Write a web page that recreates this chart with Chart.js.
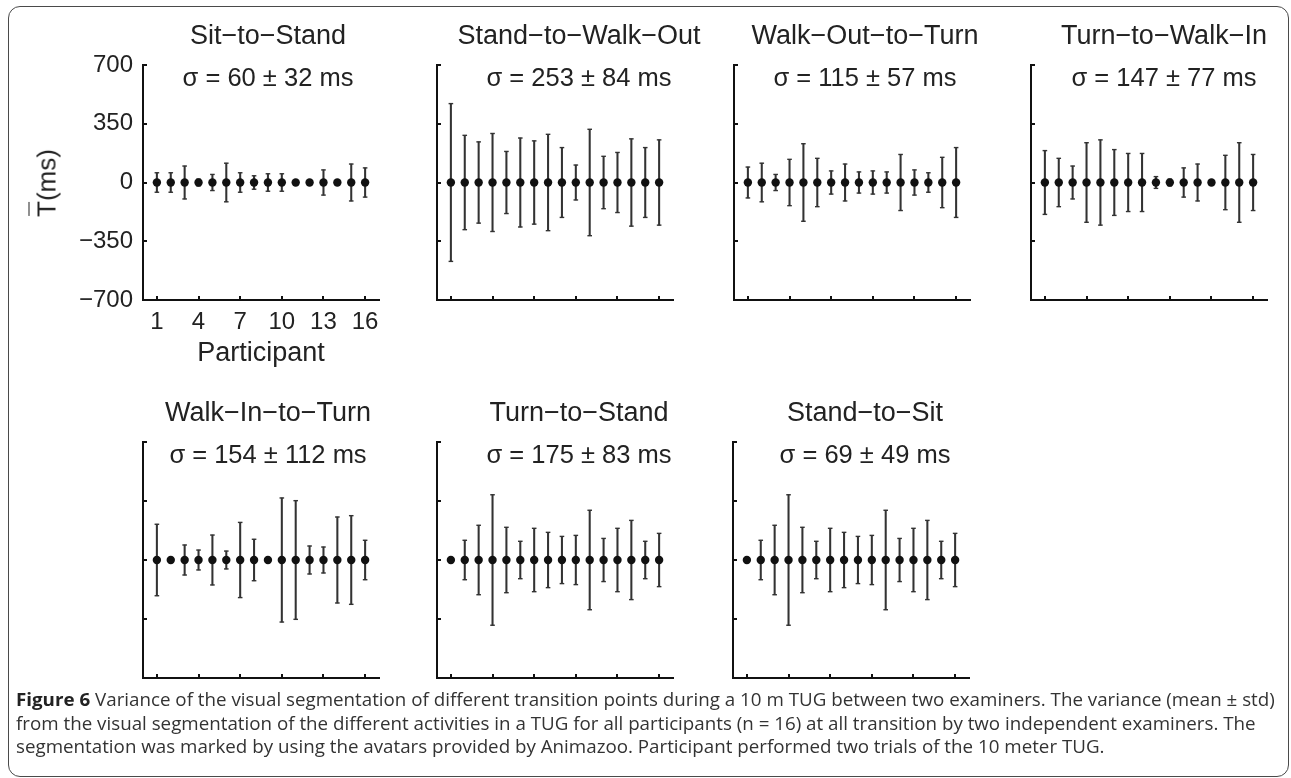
<!DOCTYPE html>
<html>
<head>
<meta charset="utf-8">
<script src="https://cdn.jsdelivr.net/npm/chart.js@4.4.1/dist/chart.umd.min.js"></script>
<style>
  html, body { margin: 0; padding: 0; background: #fff; overflow: hidden; }
  body { width: 1291px; height: 778px; position: relative; font-family: "Liberation Sans", Arial, sans-serif; }
  .frame { position: absolute; left: 8px; top: 6px; width: 1281px; height: 771px; border: 1.5px solid #4a4a4a; border-radius: 12px; box-sizing: border-box; }
  canvas { position: absolute; }
  .ylab { position: absolute; left: 47px; top: 183px; transform: translate(-50%, -50%) rotate(-90deg); font-size: 26px; color: #222; white-space: nowrap; }
  .ylab .bar { position: relative; }
  .ylab .bar::before { content: ""; position: absolute; left: 1px; right: 1px; top: -3px; border-top: 1.6px solid #222; }
  .caption { position: absolute; left: 16px; top: 687px; font-family: "Open Sans", sans-serif; font-size: 18.3px; line-height: 23.5px; color: #333; }
  .caption div { white-space: nowrap; width: max-content; transform-origin: 0 0; }
  .caption b { color: #222; }
</style>
</head>
<body>
<div class="frame"></div>
<div id="charts"></div>
<div class="ylab"><span class="bar">T</span>(ms)</div>
<div class="caption" id="caption">
  <div><b>Figure 6</b> Variance of the visual segmentation of different transition points during a 10 m TUG between two examiners. The variance (mean ± std)</div>
  <div>from the visual segmentation of the different activities in a TUG for all participants (n = 16) at all transition by two independent examiners. The</div>
  <div>segmentation was marked by using the avatars provided by Animazoo. Participant performed two trials of the 10 meter TUG.</div>
</div>

<script>
// participants on the x axis and the ticks that get labelled
const participants = [1, 2, 3, 4, 5, 6, 7, 8, 9, 10, 11, 12, 13, 14, 15, 16];
const xTickValues = [1, 4, 7, 10, 13, 16];
const yTickValues = [-700, -350, 0, 350, 700];

const panelTitles = [
  'Sit\u2212to\u2212Stand', 'Stand\u2212to\u2212Walk\u2212Out', 'Walk\u2212Out\u2212to\u2212Turn', 'Turn\u2212to\u2212Walk\u2212In',
  'Walk\u2212In\u2212to\u2212Turn', 'Turn\u2212to\u2212Stand', 'Stand\u2212to\u2212Sit'
];
const sigmaLabels = [
  'σ = 60 ± 32 ms', 'σ = 253 ± 84 ms', 'σ = 115 ± 57 ms', 'σ = 147 ± 77 ms',
  'σ = 154 ± 112 ms', 'σ = 175 ± 83 ms', 'σ = 69 ± 49 ms'
];

// mean difference per participant (every panel is centred on 0)
const meanT = [0, 0, 0, 0, 0, 0, 0, 0, 0, 0, 0, 0, 0, 0, 0, 0];

// std per participant (ms)
const sdSitToStand     = [58, 58, 98, 20, 48, 115, 58, 40, 52, 52, 0, 0, 75, 0, 110, 87];
const sdStandToWalkOut = [470, 281, 242, 292, 185, 265, 248, 287, 208, 104, 317, 156, 179, 260, 208, 254];
const sdWalkOutToTurn  = [92, 115, 48, 138, 231, 144, 69, 110, 63, 69, 63, 167, 75, 58, 150, 208];
const sdTurnToWalkIn   = [190, 144, 98, 237, 254, 196, 173, 173, 35, 20, 87, 110, 0, 162, 237, 167];
const sdWalkInToTurn   = [212, 0, 89, 59, 148, 53, 223, 123, 0, 368, 352, 83, 77, 255, 263, 117];
const sdTurnToStand    = [0, 117, 206, 387, 194, 111, 188, 164, 140, 146, 295, 128, 188, 235, 111, 158];
const sdStandToSit     = [0, 117, 206, 387, 194, 111, 188, 164, 140, 146, 295, 128, 188, 235, 111, 158];

const panelSd = [sdSitToStand, sdStandToWalkOut, sdWalkOutToTurn, sdTurnToWalkIn,
                 sdWalkInToTurn, sdTurnToStand, sdStandToSit];

// where each panel sits on the page
const panelBoxes = [
  { textX: 268, plotLeft: 143, top: 0 },
  { textX: 579, plotLeft: 437, top: 0 },
  { textX: 865, plotLeft: 734, top: 0 },
  { textX: 1164, plotLeft: 1031, top: 0 },
  { textX: 268, plotLeft: 143, top: 377 },
  { textX: 579, plotLeft: 437, top: 377 },
  { textX: 865, plotLeft: 733, top: 377 }
];
const CANVAS_W = 420, CANVAS_H = 400, PLOT_W = 236;
const FONT = '"Liberation Sans", Arial, sans-serif';
const INK = '#222';

// title above the axes and sigma line just inside the top
const panelText = {
  id: 'panelText',
  afterDraw(chart, args, opts) {
    const { ctx, chartArea } = chart;
    const cx = chart.width / 2;
    ctx.save();
    ctx.fillStyle = INK;
    ctx.textAlign = 'center';
    ctx.textBaseline = 'alphabetic';
    ctx.font = '27px ' + FONT;
    ctx.fillText(opts.title, cx, chartArea.top - 21);
    ctx.font = '25.5px ' + FONT;
    ctx.fillText(opts.sigma, cx, chartArea.top + 21);
    ctx.restore();
  }
};

const minusLabel = v => (v < 0 ? '\u2212' + Math.abs(v) : String(v));

panelBoxes.forEach((box, i) => {
  const sd = panelSd[i];
  const first = i === 0;
  const canvasLeft = box.textX - CANVAS_W / 2;
  const yWidth = box.plotLeft - canvasLeft;

  const cv = document.createElement('canvas');
  cv.width = CANVAS_W;
  cv.height = CANVAS_H;
  cv.style.left = canvasLeft + 'px';
  cv.style.top = box.top + 'px';
  document.getElementById('charts').appendChild(cv);

  new Chart(cv.getContext('2d'), {
    type: 'scatter',
    data: {
      datasets: [
        {
          data: participants.map((p, k) => ({ x: p, y: meanT[k] })),
          pointRadius: 4.2,
          pointBackgroundColor: '#111',
          pointBorderWidth: 0,
          order: 0
        },
        {
          data: participants.map((p, k) => ({ x: p, y: meanT[k] + sd[k] })),
          pointStyle: 'line',
          pointRadius: 2.3,
          pointBorderColor: '#333',
          pointBorderWidth: 1.4,
          order: 1
        },
        {
          data: participants.map((p, k) => ({ x: p, y: meanT[k] - sd[k] })),
          pointStyle: 'line',
          pointRadius: 2.3,
          pointBorderColor: '#333',
          pointBorderWidth: 1.4,
          order: 1
        },
        {
          type: 'bar',
          data: participants.map((p, k) => ({ x: p, y: [meanT[k] - sd[k], meanT[k] + sd[k]] })),
          barThickness: 1.4,
          backgroundColor: '#333',
          borderWidth: 0,
          order: 2
        }
      ]
    },
    options: {
      responsive: false,
      animation: false,
      devicePixelRatio: 1,
      events: [],
      layout: { padding: { left: 0, top: 65, right: CANVAS_W - yWidth - PLOT_W, bottom: box.top ? 24 : 25 } },
      plugins: {
        legend: { display: false },
        tooltip: { enabled: false },
        panelText: { title: panelTitles[i], sigma: sigmaLabels[i] }
      },
      scales: {
        x: {
          type: 'linear',
          min: 0,
          max: 17,
          offset: false,
          afterBuildTicks: s => { s.ticks = xTickValues.map(v => ({ value: v })); },
          afterFit: s => { s.height = 75; },
          grid: { drawOnChartArea: false, drawTicks: true, tickLength: -4, color: '#111', lineWidth: 2, offset: false },
          border: { display: true, color: '#111', width: 2 },
          ticks: { display: first, padding: 12, color: INK, maxRotation: 0, autoSkip: false, font: { family: FONT, size: 24 } },
          title: { display: first, text: 'Participant', color: INK, font: { family: FONT, size: 27 }, padding: { top: 0, bottom: 5 } }
        },
        y: {
          type: 'linear',
          min: -700,
          max: 700,
          afterBuildTicks: s => { s.ticks = yTickValues.map(v => ({ value: v })); },
          afterFit: s => { s.width = yWidth; },
          grid: { drawOnChartArea: false, drawTicks: true, tickLength: -4, color: '#111', lineWidth: 2 },
          border: { display: true, color: '#111', width: 2 },
          ticks: { display: first, padding: 14, color: INK, font: { family: FONT, size: 24 }, callback: minusLabel }
        }
      }
    },
    plugins: [panelText]
  });
});

// condensed caption: squeeze lines so the first one spans the frame like the figure
function fitCaption() {
  const lines = document.querySelectorAll('#caption div');
  const k = 1259 / lines[0].offsetWidth;
  lines.forEach(l => { l.style.transform = 'scaleX(' + k + ')'; });
}
if (document.fonts && document.fonts.ready) document.fonts.ready.then(fitCaption); else fitCaption();
</script>
</body>
</html>
